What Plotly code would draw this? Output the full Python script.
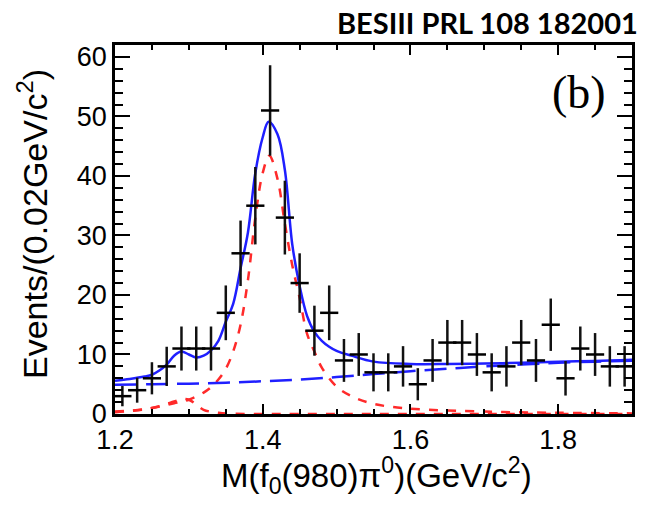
import plotly.graph_objects as go

# ---- data points (bin centres, counts, errors) ----
x_data = [1.21, 1.23, 1.25, 1.27, 1.29, 1.31, 1.33, 1.35, 1.37, 1.39, 1.41, 1.43, 1.45, 1.47, 1.49,
          1.51, 1.53, 1.55, 1.57, 1.59, 1.61, 1.63, 1.65, 1.67, 1.69, 1.71, 1.73, 1.75, 1.77, 1.79,
          1.81, 1.83, 1.85, 1.87, 1.89]
y_data = [3, 4, 6, 8, 11, 11, 11, 17, 27, 35, 51, 33, 22, 14, 17,
          9, 10, 7, 7, 8, 5, 9, 12, 12, 10, 7, 8, 12, 9, 15,
          6, 11, 10, 8, 8]
y_err = [1.7, 2.1, 2.7, 3.3, 3.7, 3.7, 3.7, 4.6, 5.5, 6.5, 7.6, 6.2, 5.0, 4.2, 4.6,
         3.6, 3.6, 3.2, 3.2, 3.4, 2.7, 3.6, 3.8, 3.8, 3.6, 3.2, 3.4, 3.8, 3.6, 4.4,
         2.9, 3.7, 3.6, 3.4, 3.4]

# ---- total fit (blue solid) ----
tot_x = [1.20, 1.22, 1.24, 1.25, 1.26, 1.27, 1.28, 1.29, 1.30, 1.31, 1.32, 1.33, 1.34, 1.35,
         1.36, 1.37, 1.38, 1.39, 1.40, 1.408, 1.42, 1.43, 1.44, 1.45, 1.46, 1.47, 1.48, 1.49,
         1.50, 1.52, 1.55, 1.60, 1.65, 1.70, 1.75, 1.80, 1.85, 1.90]
tot_y = [5.6, 5.9, 6.3, 6.6, 7.3, 8.3, 9.8, 10.5, 10.0, 9.5, 9.8, 10.7, 12.3, 15.5,
         18.5, 24.5, 30.5, 40.5, 46.5, 49.1, 47.0, 41.0, 28.5, 21.5, 16.5, 13.8, 12.3, 11.3,
         10.6, 9.8, 8.8, 8.4, 8.4, 8.5, 8.6, 8.8, 8.9, 9.1]

# ---- signal (red dashed peak) ----
sig_x = [1.20, 1.24, 1.28, 1.30, 1.32, 1.33, 1.34, 1.35, 1.36, 1.37, 1.38, 1.39, 1.40, 1.409,
         1.42, 1.43, 1.44, 1.45, 1.46, 1.47, 1.48, 1.50, 1.52, 1.55, 1.60, 1.70, 1.80, 1.90]
sig_y = [0.4, 0.8, 1.8, 2.4, 3.6, 4.5, 5.8, 7.6, 10.5, 15.0, 22.5, 33.0, 40.5, 43.4,
         39.5, 32.0, 25.0, 19.5, 13.5, 10.5, 7.8, 4.6, 3.0, 1.7, 0.9, 0.4, 0.2, 0.1]

# ---- second component (red dashed bump) ----
bump_x = [1.20, 1.22, 1.24, 1.26, 1.28, 1.29, 1.30, 1.31, 1.32, 1.34, 1.36, 1.40, 1.50, 1.60,
          1.70, 1.80, 1.90]
bump_y = [0.3, 0.5, 0.8, 1.3, 2.1, 2.5, 2.4, 1.6, 0.7, 0.2, 0.05, 0, 0, 0, 0, 0, 0]

# ---- background (blue long dashed) ----
bg_x = [1.20, 1.25, 1.30, 1.35, 1.40, 1.45, 1.50, 1.55, 1.60, 1.65, 1.70, 1.75, 1.80, 1.85, 1.90]
bg_y = [4.9, 5.0, 5.1, 5.25, 5.5, 5.8, 6.2, 6.7, 7.2, 7.6, 8.0, 8.3, 8.6, 8.8, 8.95]

x_ticks = [1.2, 1.4, 1.6, 1.8]
y_ticks = [0, 10, 20, 30, 40, 50, 60]

RED = "#ff2a2a"
BLUE = "#1f1fff"

fig = go.Figure()
fig.add_trace(go.Scatter(x=bump_x, y=bump_y, mode="lines", line_shape="spline",
                         line=dict(color=RED, width=2.5, dash="dash"), cliponaxis=True))
fig.add_trace(go.Scatter(x=sig_x, y=sig_y, mode="lines", line_shape="spline",
                         line=dict(color=RED, width=2.5, dash="dash")))
fig.add_trace(go.Scatter(x=bg_x, y=bg_y, mode="lines", line_shape="spline",
                         line=dict(color=BLUE, width=2.5, dash="22px,9px")))
fig.add_trace(go.Scatter(x=tot_x, y=tot_y, mode="lines", line_shape="spline",
                         line=dict(color=BLUE, width=2.5)))
fig.add_trace(go.Scatter(x=x_data, y=y_data, mode="markers",
                         marker=dict(symbol="line-ew", size=13, color="black",
                                     line=dict(color="black", width=2.5)),
                         error_y=dict(type="data", array=y_err, visible=True,
                                      color="#111111", thickness=2.5, width=0)))

tick_font = dict(family="Liberation Sans, Arial", size=27, color="black")
fig.update_layout(
    width=649, height=512,
    margin=dict(l=115, r=17, t=45, b=98),
    paper_bgcolor="white", plot_bgcolor="white",
    showlegend=False,
    xaxis=dict(range=[1.2, 1.9], tickvals=x_ticks, ticktext=[str(v) for v in x_ticks],
               ticks="inside", ticklen=10, tickwidth=2, tickcolor="black",
               showline=True, linewidth=2.5, linecolor="black", mirror="ticks",
               showgrid=False, zeroline=False, tickfont=tick_font,
               minor=dict(ticks="inside", ticklen=5, tickwidth=2, tickcolor="black",
                          dtick=0.05, showgrid=False)),
    yaxis=dict(range=[0, 62], tickvals=y_ticks, ticktext=[str(v) for v in y_ticks],
               ticks="inside", ticklen=15, tickwidth=2, tickcolor="black",
               showline=True, linewidth=2.5, linecolor="black", mirror="ticks",
               showgrid=False, zeroline=False, tickfont=tick_font,
               minor=dict(ticks="inside", ticklen=8, tickwidth=2, tickcolor="black",
                          dtick=2, showgrid=False)),
    annotations=[
        dict(text="<b>BESIII PRL 108 182001</b>", xref="paper", yref="paper",
             x=1.0155, y=1.062, xanchor="right", yanchor="middle", showarrow=False,
             font=dict(family="Lato", size=29, color="black")),
        dict(text="(b)", xref="paper", yref="paper", x=0.8975, y=0.8726,
             xanchor="center", yanchor="middle", showarrow=False,
             font=dict(family="Liberation Serif", size=46, color="black")),
        dict(text="Events/(0.02GeV/c<sup>2</sup>)", xref="paper", yref="paper",
             x=-0.1586, y=0.515, xanchor="center", yanchor="middle", textangle=-90,
             showarrow=False, font=dict(family="Liberation Sans, Arial", size=34, color="black")),
        dict(text="M(f<sub>0</sub>(980)\u03c0<sup>0</sup>)(GeV/c<sup>2</sup>)", xref="paper",
             yref="paper", x=0.505, y=-0.168, xanchor="center", yanchor="middle",
             showarrow=False, font=dict(family="Liberation Sans, Arial", size=33, color="black")),
    ],
)

fig.write_html("out.html")
